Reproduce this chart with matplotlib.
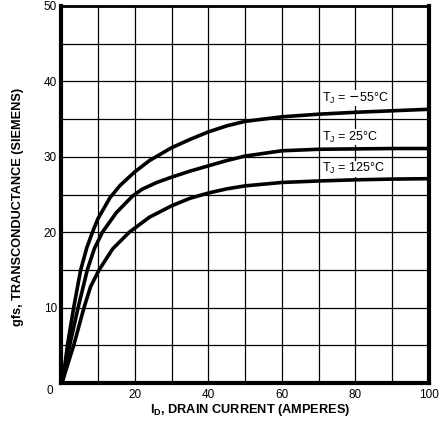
import matplotlib
matplotlib.use("Agg")
import matplotlib.pyplot as plt

plt.rcParams['font.family'] = ['Liberation Sans', 'DejaVu Sans']

# gfs (siemens) vs drain current (amperes)
id_m55 = [0.5, 1.7, 3.4, 5.3, 7, 8.5, 10, 13.3, 16, 20, 24, 30, 35, 40, 45, 50, 60, 70, 80, 90, 100]
gfs_m55 = [0.5, 5, 10, 15, 18, 20, 21.8, 24.6, 26.2, 28, 29.5, 31.2, 32.3, 33.3, 34.1, 34.7, 35.3, 35.65, 35.9, 36.1, 36.3]

id_25 = [0.5, 2.3, 4.6, 7.1, 9, 11.2, 15, 19.4, 22, 26, 30, 35, 40, 45, 50, 60, 70, 80, 90, 100]
gfs_25 = [0.5, 5, 10, 15, 17.8, 20, 22.6, 24.8, 25.7, 26.6, 27.3, 28.1, 28.8, 29.5, 30.1, 30.8, 31.0, 31.05, 31.1, 31.1]

id_125 = [0.5, 3.4, 6.2, 8, 10.3, 14, 18.5, 24, 30, 35, 40, 45, 50, 60, 70, 80, 90, 100]
gfs_125 = [0.5, 5, 10, 12.8, 15, 17.8, 20, 22.0, 23.5, 24.5, 25.2, 25.75, 26.15, 26.6, 26.8, 26.95, 27.05, 27.1]

curve_labels = [r"T$_\mathregular{J}$ = $-$55°C", r"T$_\mathregular{J}$ = 25°C", r"T$_\mathregular{J}$ = 125°C"]
label_pos = [(71, 37.8), (71, 32.6), (71, 28.4)]

x_ticks = [0, 20, 40, 60, 80, 100]
y_ticks = [0, 10, 20, 30, 40, 50]

fig = plt.figure(figsize=(4.4, 4.22), dpi=100)
ax = fig.add_axes([0.139, 0.092, 0.836, 0.894])

for xs, ys in [(id_m55, gfs_m55), (id_25, gfs_25), (id_125, gfs_125)]:
    ax.plot(xs, ys, color='black', lw=2.6, solid_capstyle='round', solid_joinstyle='round', zorder=3)

for txt, (tx, ty) in zip(curve_labels, label_pos):
    ax.text(tx, ty, txt, fontsize=9, va='center', ha='left', zorder=4,
            bbox=dict(facecolor='white', edgecolor='none', pad=0.5))

ax.set_xlim(0, 100)
ax.set_ylim(0, 50)
ax.set_xticks(x_ticks)
ax.set_yticks(y_ticks)
ax.set_xticks(range(0, 101, 10), minor=True)
ax.set_yticks(range(0, 51, 5), minor=True)
ax.grid(which='both', color='black', lw=0.9)
ax.tick_params(which='both', length=0, labelsize=8.5)
ax.tick_params(axis='x', pad=4)
ax.tick_params(axis='y', pad=3)
ax.set_xticklabels([''] + [str(v) for v in x_ticks[1:]])
ax.set_yticklabels([''] + [str(v) for v in y_ticks[1:]])
# shared origin label sits in the corner, a bit below the axis
ax.text(-2.2, -1.0, str(y_ticks[0]), fontsize=8.5, ha='right', va='center', clip_on=False)

for side, w in [('left', 3), ('bottom', 3), ('right', 3), ('top', 2)]:
    ax.spines[side].set_linewidth(w)

ax.set_xlabel(r"I$_\mathregular{D}$, DRAIN CURRENT (AMPERES)", fontsize=9.2, fontweight='bold')
ax.set_ylabel("gfs, TRANSCONDUCTANCE (SIEMENS)", fontsize=9.2, fontweight='bold')
ax.xaxis.set_label_coords(0.514, -0.05)
ax.yaxis.set_label_coords(-0.1, 0.467)

fig.savefig("out.png", dpi=100)
